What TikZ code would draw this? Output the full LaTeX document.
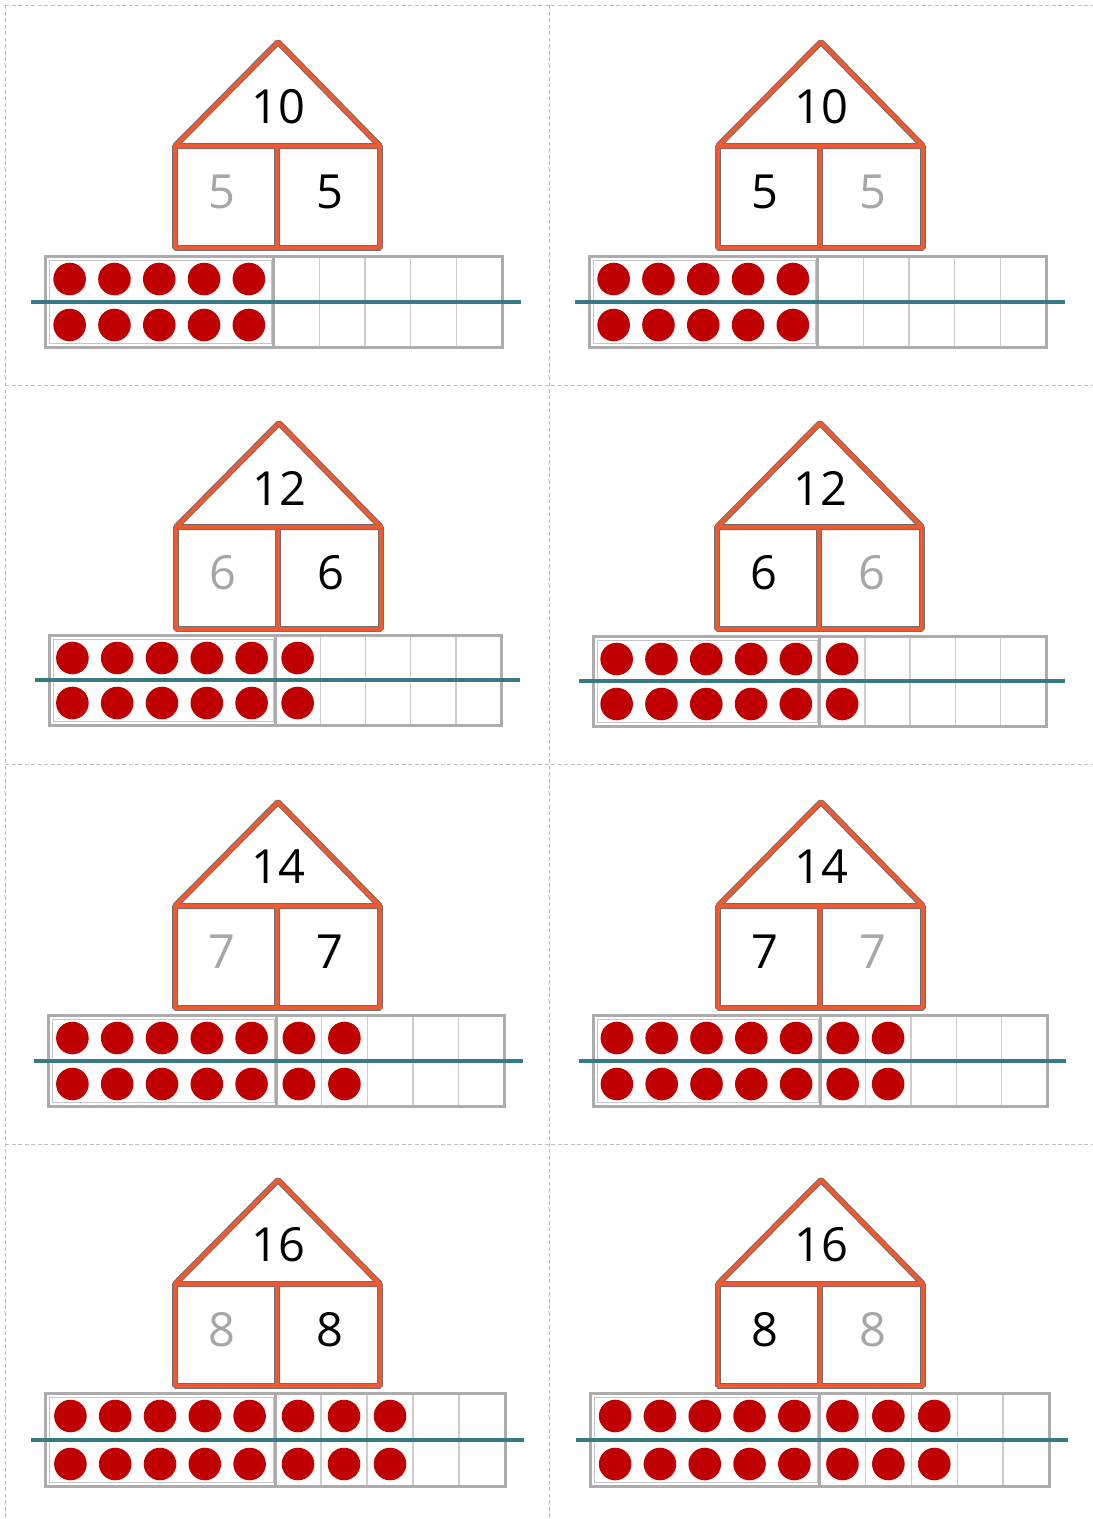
\documentclass[tikz,border=0pt]{standalone}
\usepackage{fontspec}
\setmainfont{Open Sans}
\definecolor{roof}{RGB}{240,88,48}
\definecolor{roofshade}{RGB}{110,110,110}
\definecolor{dotred}{RGB}{192,0,0}
\definecolor{tealline}{RGB}{54,122,133}
\definecolor{framegray}{RGB}{172,172,172}
\definecolor{celllight}{RGB}{205,205,205}
\definecolor{numgray}{RGB}{166,166,166}
\definecolor{cutgray}{RGB}{190,190,190}
\begin{document}
\begin{tikzpicture}[x=1pt,y=-1pt,
  cutline/.style={draw=cutgray,line width=0.9pt,dash pattern=on 4pt off 2.5pt},
  houseshade/.style={draw=roofshade,line width=6pt,line join=bevel},
  houseline/.style={draw=roof,line width=4pt,line join=bevel},
  num/.style={inner sep=0pt,font=\fontsize{47}{50}\selectfont},
  outerframe/.style={draw=framegray,line width=3pt},
  innerframe/.style={draw=framegray!70,line width=0.9pt},
  cellline/.style={draw=celllight,line width=1.4pt},
  midbar/.style={draw=tealline,line width=4pt},
  dot/.style={fill=dotred}
]
\useasboundingbox (0,0) rectangle (1093,1519);
\fill[white] (0,0) rectangle (1093,1519);
% cut lines
\coordinate (c1) at (5,5); \coordinate (c2) at (1093,5);
\coordinate (c3) at (5,385); \coordinate (c4) at (1093,385);
\coordinate (c5) at (5,764); \coordinate (c6) at (1093,764);
\coordinate (c7) at (5,1144); \coordinate (c8) at (1093,1144);
\coordinate (v1) at (5,1519); \coordinate (v2) at (549,5); \coordinate (v3) at (549,1519);
\draw[cutline] (c1) -- (c2);
\draw[cutline] (c3) -- (c4);
\draw[cutline] (c5) -- (c6);
\draw[cutline] (c7) -- (c8);
\draw[cutline] (c1) -- (v1);
\draw[cutline] (v2) -- (v3);
\foreach \ax/\ay/\fl/\fr/\ft/\fb/\T/\A/\B/\lc/\rc/\n [count=\k] in {
  278/42/45/502/256/347/10/5/5/numgray/black/5,
  821/42/589/1046/256/347/10/5/5/black/numgray/5,
  279/423/49/501/635/725/12/6/6/numgray/black/6,
  820/423/593/1046/636/726/12/6/6/black/numgray/6,
  278/802/48/504/1015/1106/14/7/7/numgray/black/7,
  821/802/593/1047/1015/1106/14/7/7/black/numgray/7,
  278/1180/45/505/1393/1486/16/8/8/numgray/black/8,
  821/1180/590/1049/1393/1486/16/8/8/black/numgray/8}{
  \pgfmathsetmacro\w{(\fr-\fl)/10}
  \pgfmathsetmacro\mx{\fl+5*\w}
  \pgfmathsetmacro\my{(\ft+\fb)/2}
  \pgfmathsetmacro\lcx{\fl+2.5*\w}
  % house
  \coordinate (apex\k) at (\ax,\ay);
  \coordinate (bl\k) at ({\ax-103},{\ay+104});
  \coordinate (br\k) at ({\ax+102},{\ay+104});
  \coordinate (fl\k) at ({\ax-103},{\ay+206});
  \coordinate (frr\k) at ({\ax+102},{\ay+206});
  \coordinate (dt\k) at ({\ax-1},{\ay+104});
  \coordinate (db\k) at ({\ax-1},{\ay+206});
  \foreach \st in {houseshade,houseline}{
    \draw[\st] (bl\k) -- (apex\k) -- (br\k) -- cycle;
    \draw[\st] (bl\k) rectangle (frr\k);
    \draw[\st] (dt\k) -- (db\k);
  }
  \node[num] (top\k) at ({\ax},{\ay+65}) {\T};
  \node[num,text=\lc] (left\k) at ({\ax-56},{\ay+150}) {\A};
  \node[num,text=\rc] (right\k) at ({\ax+52},{\ay+150}) {\B};
  % ten frame
  \foreach \c in {6,...,9}{
    \draw[cellline] ({\fl+\c*\w},{\ft}) -- ({\fl+\c*\w},{\fb});
  }
  \draw[innerframe] ({\fl+4},{\ft+4}) rectangle ({\mx-2},{\fb-4});
  \draw[outerframe] (\fl,\ft) rectangle (\fr,\fb);
  \draw[outerframe] (\mx,\ft) -- (\mx,\fb);
  \foreach \i in {1,...,5}{
    \fill[dot] ({\lcx+(\i-3)*44.8},{\ft+23}) circle[radius=16.3pt];
    \fill[dot] ({\lcx+(\i-3)*44.8},{\fb-22}) circle[radius=16.3pt];
  }
  \ifnum\n>5
  \foreach \i in {6,...,\n}{
    \fill[dot] ({\fl+(\i-0.5)*\w},{\ft+23}) circle[radius=16.3pt];
    \fill[dot] ({\fl+(\i-0.5)*\w},{\fb-22}) circle[radius=16.3pt];
  }
  \fi
  \coordinate (tl\k) at ({\fl-14},{\my});
  \coordinate (tr\k) at ({\fr+19},{\my});
  \draw[midbar] (tl\k) -- (tr\k);
}
\end{tikzpicture}
\end{document}
